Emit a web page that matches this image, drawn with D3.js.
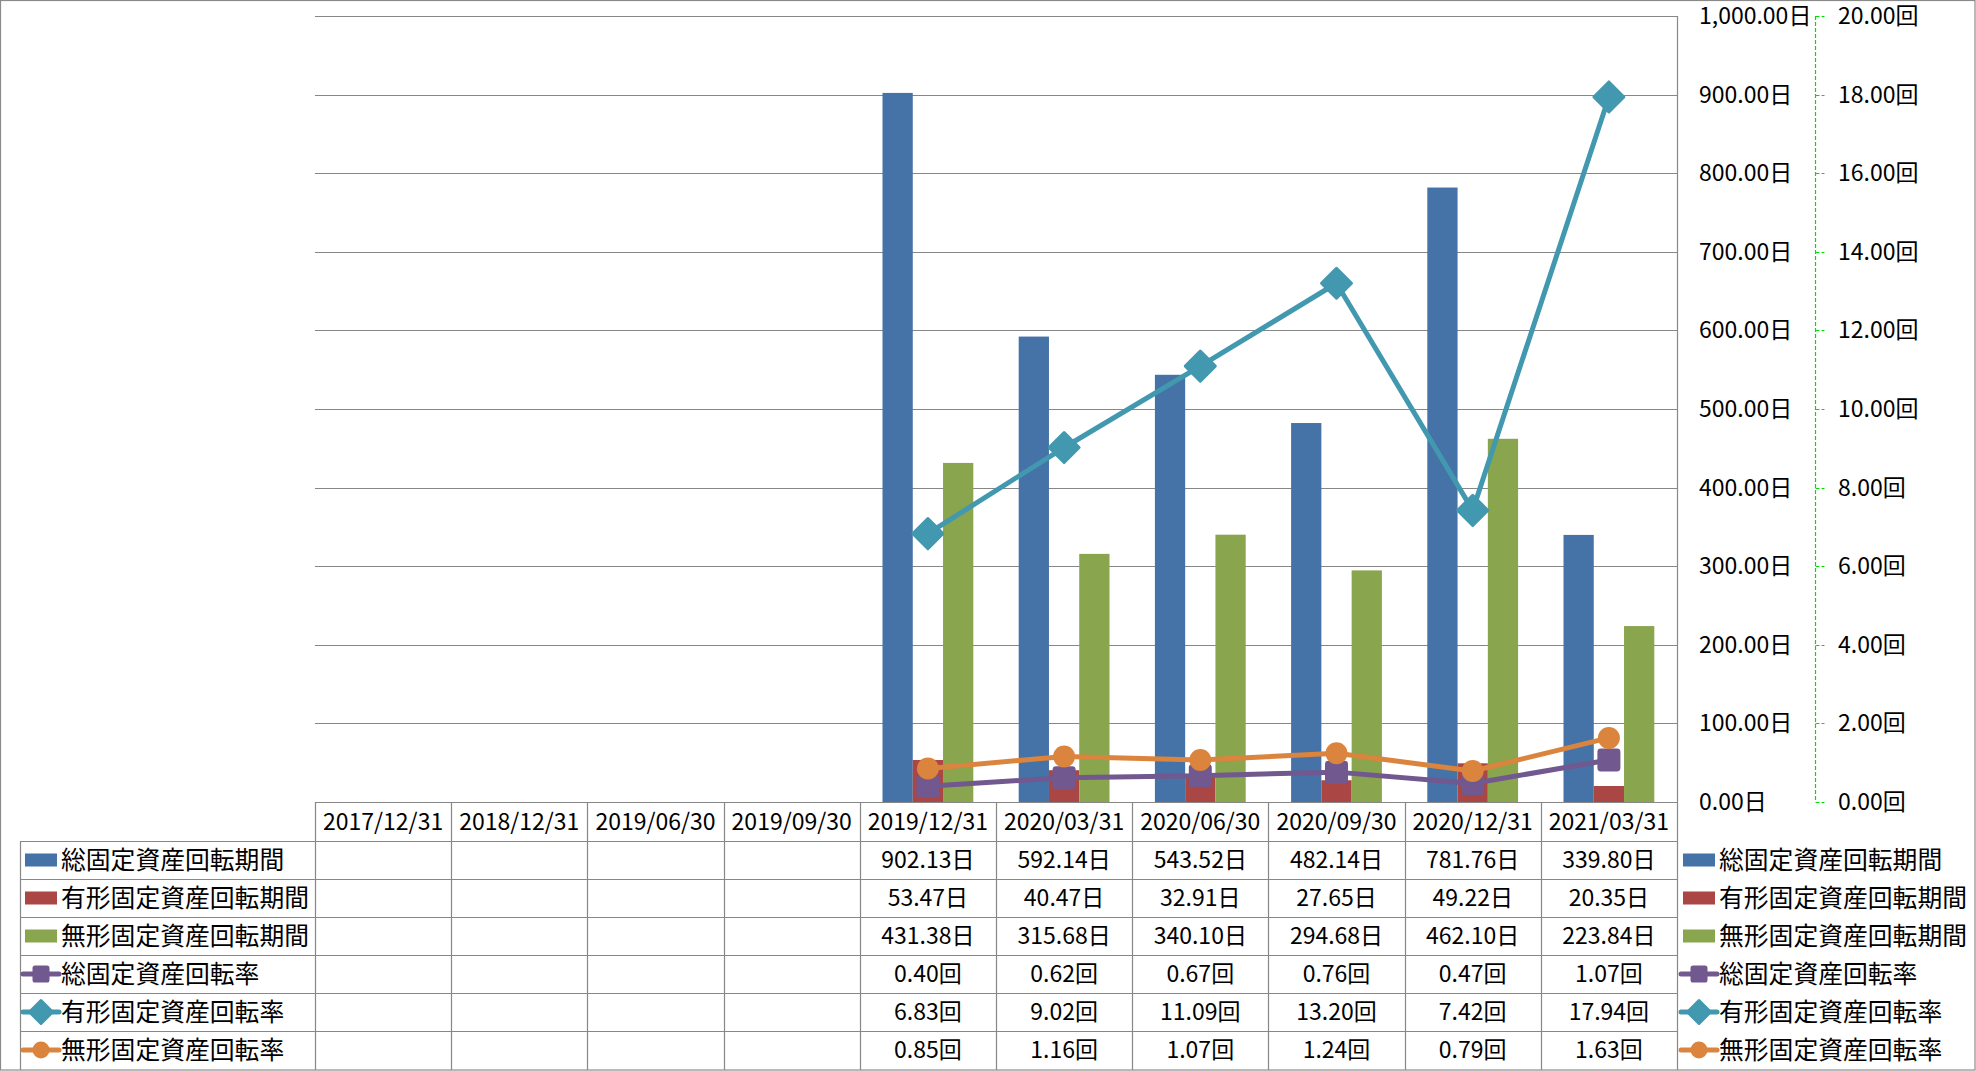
<!DOCTYPE html>
<html>
<head>
<meta charset="utf-8">
<script src="https://cdn.jsdelivr.net/npm/d3@7"></script>
<style>
html,body{margin:0;padding:0;background:#fff;}
svg{display:block;}
text{font-family:"Noto Sans CJK JP","Noto Sans",sans-serif;fill:#000;}
</style>
</head>
<body>
<svg id="chart" width="1976" height="1071"></svg>
<script>
// ---------- data ----------
const categories = ["2017/12/31","2018/12/31","2019/06/30","2019/09/30","2019/12/31","2020/03/31","2020/06/30","2020/09/30","2020/12/31","2021/03/31"];
const totalPeriod    = [null,null,null,null,902.13,592.14,543.52,482.14,781.76,339.80];
const tangiblePeriod = [null,null,null,null,53.47,40.47,32.91,27.65,49.22,20.35];
const intangiblePeriod = [null,null,null,null,431.38,315.68,340.10,294.68,462.10,223.84];
const totalRate      = [null,null,null,null,0.40,0.62,0.67,0.76,0.47,1.07];
const tangibleRate   = [null,null,null,null,6.83,9.02,11.09,13.20,7.42,17.94];
const intangibleRate = [null,null,null,null,0.85,1.16,1.07,1.24,0.79,1.63];
const seriesNames = ["総固定資産回転期間","有形固定資産回転期間","無形固定資産回転期間","総固定資産回転率","有形固定資産回転率","無形固定資産回転率"];
const dayTicks = [0,100,200,300,400,500,600,700,800,900,1000];
const rateTicks = [0,2,4,6,8,10,12,14,16,18,20];

const colors = ["#4572A7","#AA4643","#89A54E","#71588F","#4198AF","#DB843D"];
const barSeries = [totalPeriod, tangiblePeriod, intangiblePeriod];
const lineSeries = [totalRate, tangibleRate, intangibleRate];
const lineMarkers = ["square","diamond","circle"];

// ---------- layout ----------
const W = 1976, H = 1071;
const plotL = 315, plotR = 1677, plotT = 16, plotB = 802;
const rowH = 38, headerB = 841;
const legendColL = 20;
const FONT = 23;
const LEGEND_FONT = 24.8;

const svg = d3.select("#chart");
const gridColor = "#878787";

const x = d3.scaleBand().domain(categories).range([plotL, plotR]).padding(0);
const bw = x.bandwidth();
const barW = bw / 4.5;
const xs = d3.scaleBand().domain([0,1,2]).range([barW*0.75, barW*3.75]).padding(0);
const yDay = d3.scaleLinear().domain([0,1000]).range([plotB, plotT]);
const yRate = d3.scaleLinear().domain([0,20]).range([plotB, plotT]);

// gridlines
svg.append("g").selectAll("line").data(dayTicks).join("line")
  .attr("x1", plotL).attr("x2", plotR)
  .attr("y1", d => Math.round(yDay(d))+0.5).attr("y2", d => Math.round(yDay(d))+0.5)
  .attr("stroke", gridColor).attr("stroke-width", 1.2);

// bars
barSeries.forEach((vals, si) => {
  svg.append("g").selectAll("rect").data(categories.map((c,i)=>({c, v: vals[i]})).filter(d=>d.v!=null))
    .join("rect")
    .attr("x", d => x(d.c) + xs(si))
    .attr("width", xs.bandwidth())
    .attr("y", d => yDay(d.v))
    .attr("height", d => plotB - yDay(d.v))
    .attr("fill", colors[si]);
});

// markers
function drawMarker(g, type, cx, cy, size, color) {
  if (type === "square") {
    g.append("rect").attr("x", cx-size/2).attr("y", cy-size/2).attr("width", size).attr("height", size)
      .attr("rx", size*0.15).attr("fill", color);
  } else if (type === "diamond") {
    const r = size/2;
    g.append("path").attr("d", `M${cx},${cy-r}L${cx+r},${cy}L${cx},${cy+r}L${cx-r},${cy}Z`)
      .attr("fill", color).attr("stroke", color).attr("stroke-width", 3).attr("stroke-linejoin","round");
  } else {
    g.append("circle").attr("cx", cx).attr("cy", cy).attr("r", size/2).attr("fill", color);
  }
}
const markerSizes = {square: 23, diamond: 30, circle: 22};

lineSeries.forEach((vals, li) => {
  const color = colors[3+li];
  const pts = categories.map((c,i)=>({c, v: vals[i]})).filter(d=>d.v!=null);
  const g = svg.append("g");
  g.append("path")
    .attr("d", d3.line().x(d => x(d.c)+bw/2).y(d => yRate(d.v))(pts))
    .attr("fill","none").attr("stroke", color).attr("stroke-width", 5).attr("stroke-linejoin","round");
  pts.forEach(d => drawMarker(g, lineMarkers[li], x(d.c)+bw/2, yRate(d.v), markerSizes[lineMarkers[li]], color));
});

// day axis line (right of plot)
svg.append("line").attr("x1", plotR+0.5).attr("x2", plotR+0.5).attr("y1", plotT).attr("y2", H-1)
  .attr("stroke", gridColor).attr("stroke-width", 1.2);

// day axis labels
const fmtDay = d3.format(",.2f");
svg.append("g").selectAll("text").data(dayTicks).join("text")
  .attr("x", 1699).attr("y", d => yDay(d)).attr("dy","0.35em")
  .attr("font-size", FONT)
  .text(d => fmtDay(d) + "日");

// rate axis (green dashed)
const axX = 1815.5;
const rg = svg.append("g");
rg.append("line").attr("x1", axX).attr("x2", axX).attr("y1", plotT).attr("y2", plotB)
  .attr("stroke", "#00e000").attr("stroke-width", 1.2).attr("stroke-dasharray","4,2");
rg.selectAll("line.tk").data(rateTicks).join("line").attr("class","tk")
  .attr("x1", axX).attr("x2", axX+9).attr("y1", d => Math.round(yRate(d))+0.5).attr("y2", d => Math.round(yRate(d))+0.5)
  .attr("stroke", "#00e000").attr("stroke-width", 1.2).attr("stroke-dasharray","4,2");
const fmtRate = d3.format(".2f");
rg.selectAll("text").data(rateTicks).join("text")
  .attr("x", 1838).attr("y", d => yRate(d)).attr("dy","0.35em")
  .attr("font-size", FONT)
  .text(d => fmtRate(d) + "回");

// ---------- data table ----------
const tg = svg.append("g");
tg.append("line").attr("x1", plotL).attr("x2", plotR).attr("y1", plotB+0.5).attr("y2", plotB+0.5)
  .attr("stroke", gridColor).attr("stroke-width", 1.2);
d3.range(6).forEach(r => {
  const yy = headerB + r*rowH + 0.5;
  tg.append("line").attr("x1", legendColL).attr("x2", plotR).attr("y1", yy).attr("y2", yy)
    .attr("stroke", gridColor).attr("stroke-width", 1.2);
});
tg.append("line").attr("x1", legendColL+0.5).attr("x2", legendColL+0.5).attr("y1", headerB).attr("y2", H-1)
  .attr("stroke", gridColor).attr("stroke-width", 1.2);
categories.forEach(c => {
  tg.append("line").attr("x1", Math.round(x(c))+0.5).attr("x2", Math.round(x(c))+0.5).attr("y1", plotB).attr("y2", H-1)
    .attr("stroke", gridColor).attr("stroke-width", 1.2);
});
tg.selectAll("text.hd").data(categories).join("text").attr("class","hd")
  .attr("x", d => x(d)+bw/2).attr("y", (plotB+headerB)/2).attr("dy","0.35em")
  .attr("text-anchor","middle").attr("font-size", FONT).text(d => d);

const allSeries = [totalPeriod, tangiblePeriod, intangiblePeriod, totalRate, tangibleRate, intangibleRate];
const units = ["日","日","日","回","回","回"];
allSeries.forEach((vals, r) => {
  const cy = headerB + r*rowH + rowH/2;
  categories.forEach((c,i) => {
    if (vals[i] == null) return;
    tg.append("text").attr("x", x(c)+bw/2).attr("y", cy).attr("dy","0.35em")
      .attr("text-anchor","middle").attr("font-size", FONT)
      .text(d3.format(".2f")(vals[i]) + units[r]);
  });
});

// legend keys (table + right legend)
function legendKey(g, r, kx, tx) {
  const cy = headerB + r*rowH + rowH/2;
  if (r < 3) {
    g.append("rect").attr("x", kx).attr("y", cy-6.5).attr("width", 32).attr("height", 13).attr("fill", colors[r]);
  } else {
    g.append("line").attr("x1", kx-2).attr("x2", kx+34).attr("y1", cy).attr("y2", cy)
      .attr("stroke", colors[r]).attr("stroke-width", 5).attr("stroke-linecap","round");
    const t = lineMarkers[r-3];
    const s = t === "diamond" ? 23 : 17;
    drawMarker(g, t, kx+16, cy, s, colors[r]);
  }
  g.append("text").attr("x", tx).attr("y", cy).attr("dy","0.35em").attr("font-size", LEGEND_FONT).text(seriesNames[r]);
}
d3.range(6).forEach(r => {
  legendKey(tg, r, 25, 61);
  legendKey(svg, r, 1683, 1719);
});

// outer border
svg.append("rect").attr("x", 0.5).attr("y", 0.5).attr("width", W-1.5).attr("height", H-1.5)
  .attr("fill","none").attr("stroke", "#8a8a8a").attr("stroke-width", 1.2);
</script>
</body>
</html>
